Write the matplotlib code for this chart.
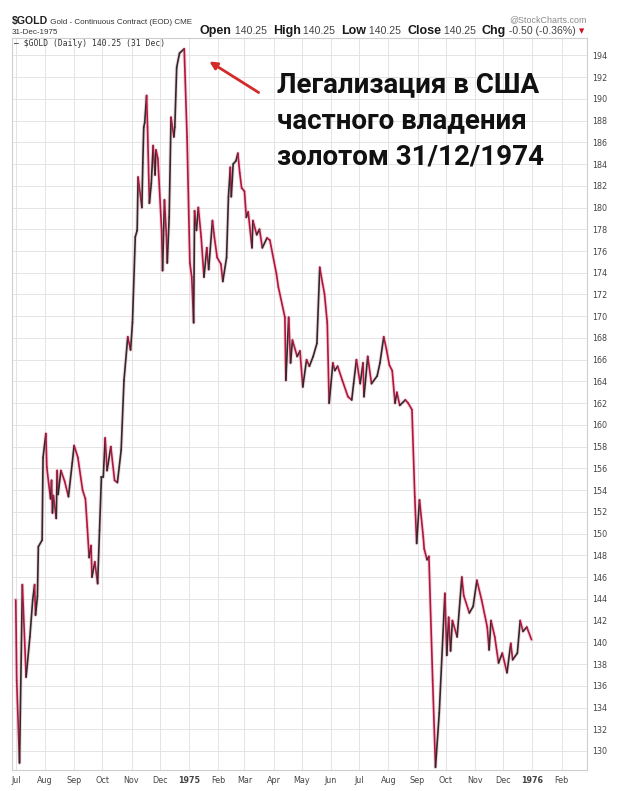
import numpy as np
import pandas as pd
import matplotlib
matplotlib.use("Agg")
import matplotlib.pyplot as plt
import matplotlib.dates as mdates
from matplotlib.collections import LineCollection

# Цена золота, $GOLD (дневные значения)
dates = [
    # 1974
    "1974-07-01", "1974-07-02", "1974-07-05", "1974-07-08", "1974-07-12", "1974-07-16",
    "1974-07-19", "1974-07-21", "1974-07-22", "1974-07-24", "1974-07-25", "1974-07-29", "1974-07-30",
    "1974-08-02", "1974-08-03", "1974-08-05", "1974-08-07", "1974-08-08", "1974-08-09", "1974-08-10",
    "1974-08-13", "1974-08-14", "1974-08-15", "1974-08-18", "1974-08-22", "1974-08-26", "1974-08-30",
    "1974-09-01", "1974-09-05", "1974-09-10", "1974-09-13", "1974-09-15", "1974-09-17", "1974-09-19",
    "1974-09-20", "1974-09-23", "1974-09-26", "1974-09-28", "1974-09-30",
    "1974-10-02", "1974-10-04", "1974-10-06", "1974-10-10", "1974-10-14", "1974-10-17", "1974-10-21",
    "1974-10-24", "1974-10-28", "1974-10-31",
    "1974-11-02", "1974-11-05", "1974-11-07", "1974-11-08", "1974-11-12", "1974-11-13", "1974-11-14",
    "1974-11-15", "1974-11-17", "1974-11-18", "1974-11-20", "1974-11-22", "1974-11-24", "1974-11-26",
    "1974-11-27", "1974-11-29",
    "1974-12-03", "1974-12-04", "1974-12-06", "1974-12-08", "1974-12-09", "1974-12-11", "1974-12-13",
    "1974-12-16", "1974-12-17", "1974-12-19", "1974-12-22", "1974-12-27", "1974-12-30",
    # 1975
    "1975-01-02", "1975-01-04", "1975-01-06", "1975-01-07", "1975-01-09", "1975-01-11", "1975-01-14",
    "1975-01-17", "1975-01-20", "1975-01-22", "1975-01-26", "1975-01-28", "1975-01-31",
    "1975-02-04", "1975-02-06", "1975-02-10", "1975-02-12", "1975-02-14", "1975-02-15", "1975-02-17",
    "1975-02-20", "1975-02-22", "1975-02-24", "1975-02-26",
    "1975-03-01", "1975-03-03", "1975-03-05", "1975-03-09", "1975-03-10", "1975-03-14", "1975-03-17",
    "1975-03-20", "1975-03-25", "1975-03-28",
    "1975-04-04", "1975-04-06", "1975-04-13", "1975-04-14", "1975-04-17", "1975-04-19", "1975-04-21",
    "1975-04-26", "1975-04-29",
    "1975-05-02", "1975-05-06", "1975-05-09", "1975-05-13", "1975-05-17", "1975-05-20", "1975-05-23",
    "1975-05-25", "1975-05-28", "1975-05-30",
    "1975-06-03", "1975-06-05", "1975-06-08", "1975-06-13", "1975-06-19", "1975-06-23", "1975-06-25",
    "1975-06-28",
    "1975-07-02", "1975-07-05", "1975-07-06", "1975-07-10", "1975-07-14", "1975-07-20", "1975-07-23",
    "1975-07-27", "1975-07-30",
    "1975-08-02", "1975-08-05", "1975-08-08", "1975-08-10", "1975-08-13", "1975-08-19", "1975-08-22",
    "1975-08-26", "1975-08-29", "1975-08-31",
    "1975-09-03", "1975-09-07", "1975-09-08", "1975-09-11", "1975-09-13", "1975-09-17", "1975-09-20",
    "1975-09-24", "1975-09-30",
    "1975-10-02", "1975-10-04", "1975-10-06", "1975-10-08", "1975-10-13", "1975-10-18", "1975-10-20",
    "1975-10-26", "1975-10-30",
    "1975-11-03", "1975-11-08", "1975-11-14", "1975-11-16", "1975-11-18", "1975-11-22", "1975-11-26",
    "1975-11-30",
    "1975-12-05", "1975-12-09", "1975-12-11", "1975-12-16", "1975-12-19", "1975-12-22", "1975-12-26",
    "1975-12-31",
]

prices = [
    143.9, 136.5, 128.9, 145.3, 136.8, 140.5, 143.9, 145.3, 142.5, 144.2, 148.8, 149.4, 157.0,
    159.2, 156.1, 154.6, 153.2, 154.9, 151.9, 153.5, 151.4, 155.8, 153.6, 155.8, 154.8, 153.4, 156.5,
    158.1, 157.0, 154.0, 153.2, 150.6, 147.8, 148.9, 146.0, 147.4, 145.4, 150.3, 155.2,
    155.2, 158.8, 155.8, 158.0, 154.9, 154.7, 157.7, 164.1, 168.1, 166.9,
    169.4, 177.3, 177.9, 182.8, 180.0, 184.1, 187.4, 187.8, 190.3, 187.4, 180.4, 182.2, 185.7, 183.0,
    185.3, 184.5,
    177.9, 174.2, 180.7, 177.5, 174.9, 179.1, 188.3, 186.5, 187.4, 192.9, 194.2, 194.6, 186.5,
    174.9, 173.6, 169.4, 179.7, 177.9, 180.0, 177.3, 173.6, 176.3, 174.3, 178.8, 177.3, 175.4,
    174.8, 173.2, 175.4, 181.0, 183.7, 181.0, 184.0, 184.3, 185.0, 183.2, 181.8,
    181.5, 179.1, 179.6, 176.3, 178.8, 177.5, 178.0, 176.3, 177.2, 177.0,
    173.9, 172.7, 169.9, 164.1, 169.9, 165.7, 167.8, 166.3, 166.8,
    163.5, 166.0, 165.4, 166.3, 167.5, 174.5, 173.0, 172.1, 169.4, 162.0,
    165.7, 165.0, 165.4, 164.1, 162.6, 162.3, 163.8, 166.0,
    163.8, 165.7, 162.6, 166.3, 163.8, 164.5, 165.7, 168.1, 166.9,
    165.5, 165.0, 162.0, 163.0, 161.8, 162.3, 162.0, 161.4, 153.4, 149.1,
    153.1, 149.7, 148.6, 147.6, 147.9, 136.5, 128.5, 133.5, 144.5,
    138.8, 142.3, 139.2, 142.0, 140.5, 146.0, 144.3, 142.7, 143.3,
    145.7, 143.9, 141.4, 139.3, 142.0, 140.5, 138.1, 139.0,
    137.2, 139.9, 138.4, 139.0, 142.0, 141.0, 141.4, 140.25,
]

y_ticks = np.arange(130, 195, 2)
month_starts = pd.date_range("1974-07-01", "1976-02-01", freq="MS")
month_labels = [d.strftime("%Y") if d.month == 1 else d.strftime("%b") for d in month_starts]

RED = "#b0163e"
BLACK = "#2b2b2b"
W, H = 620, 791

fig = plt.figure(figsize=(W / 100, H / 100), dpi=100)
ax = fig.add_axes([12 / W, 1 - 770 / H, (587 - 12) / W, (770 - 38) / H])

x = mdates.date2num(pd.to_datetime(dates))
y = np.array(prices)

# розовый ореол как на исходной картинке
ax.plot(x, y, color="#e9a3b6", lw=2.6, alpha=0.45, solid_joinstyle="round", zorder=2)

# вверх - чёрным, вниз - красным
pts = np.column_stack([x, y]).reshape(-1, 1, 2)
segs = np.concatenate([pts[:-1], pts[1:]], axis=1)
cols = np.where(np.diff(y) >= 0, BLACK, RED)
lc = LineCollection(segs, colors=cols, linewidths=1.2, capstyle="round", joinstyle="round", zorder=3)
ax.add_collection(lc)

ax.set_xlim(mdates.date2num(pd.Timestamp("1974-06-27")), mdates.date2num(pd.Timestamp("1976-02-28")))
ax.set_ylim(128.25, 195.6)

ax.set_xticks(mdates.date2num(month_starts))
ax.set_xticklabels(month_labels)
for lbl in ax.get_xticklabels():
    if lbl.get_text().isdigit():
        lbl.set_fontweight("bold")
        lbl.set_color("#222222")

ax.yaxis.tick_right()
ax.set_yticks(y_ticks)
ax.tick_params(axis="both", length=0, labelsize=5.8, colors="#444444")
ax.tick_params(axis="y", pad=4)
ax.tick_params(axis="x", pad=4)

ax.grid(True, color="#e4e4e4", lw=0.7)
ax.set_axisbelow(True)
for s in ax.spines.values():
    s.set_color("#cfcfcf")
    s.set_linewidth(0.8)


# заголовок StockCharts
def px(xp, yp):
    return xp / W, 1 - yp / H


HDR = ["Liberation Sans", "DejaVu Sans"]
fig.canvas.draw()
rend = fig.canvas.get_renderer()


def chain(parts, xstart, ybase):
    xpos = xstart
    for txt, size, weight, color in parts:
        t = fig.text(*px(xpos, ybase), txt, family=HDR, size=size, weight=weight,
                     color=color, va="baseline")
        xpos = t.get_window_extent(renderer=rend).x1


chain([("$GOLD", 7.6, "bold", "#222222"),
       (" Gold - Continuous Contract (EOD) CME", 5.8, "normal", "#333333")], 12, 24)
fig.text(*px(12, 34), "31-Dec-1975", family=HDR, size=5.8, color="#333333")
fig.text(*px(587, 22), "@StockCharts.com", family=HDR, size=6.4, color="#8a8a8a", ha="right")

B, V = ("bold", "#1a1a1a"), ("normal", "#444444")
chain([("Open", 9.0) + B, (" 140.25  ", 7.6) + V, ("High", 9.0) + B, (" 140.25  ", 7.6) + V,
       ("Low", 9.0) + B, (" 140.25  ", 7.6) + V, ("Close", 9.0) + B, (" 140.25  ", 7.6) + V,
       ("Chg", 9.0) + B, (" -0.50 (-0.36%) ", 7.6) + V, ("\u25BE", 7.6, "normal", "#cc1122")],
      200, 34)

ax.text(0.004, 0.999, "\u2014 $GOLD (Daily) 140.25 (31 Dec)", transform=ax.transAxes,
        family="DejaVu Sans Mono", size=5.8, color="#333333", va="top", ha="left")

# подпись и стрелка
note = ["Легализация в США", "частного владения", "золотом 31/12/1974"]
for i, line in enumerate(note):
    fig.text(*px(277, 92 + 36.5 * i), line, family=["Roboto", "DejaVu Sans"], weight="bold",
             size=20, color="#111111", va="baseline", ha="left")
ax.annotate("", xy=px(207, 60), xycoords="figure fraction",
            xytext=px(261, 94), textcoords="figure fraction",
            arrowprops=dict(arrowstyle="-|>", color="#d42a2a", lw=2.0, mutation_scale=11))

fig.savefig("out.png", dpi=100)
